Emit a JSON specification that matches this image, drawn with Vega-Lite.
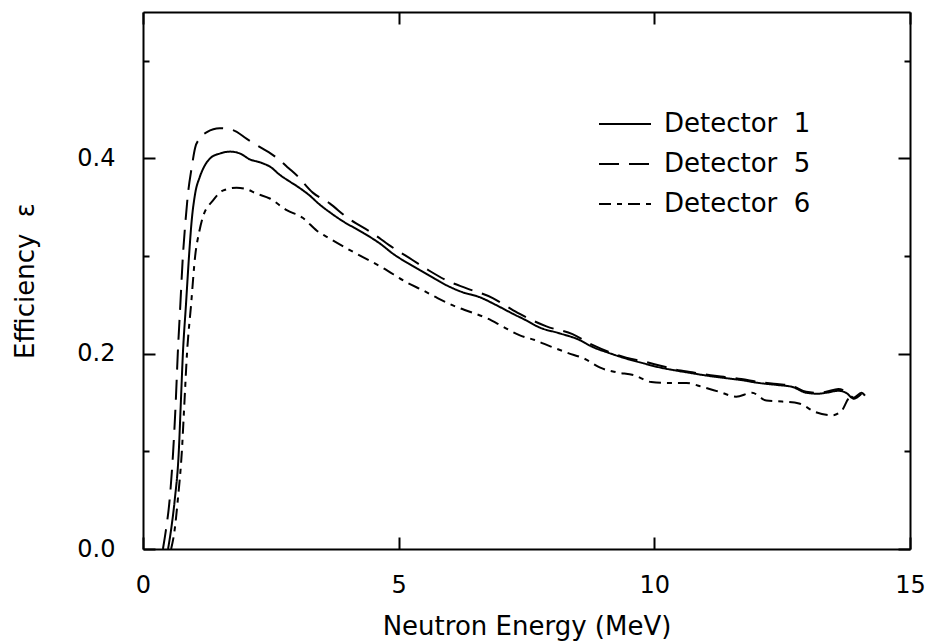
{
  "$schema": "https://vega.github.io/schema/vega-lite/v6.json",
  "width": 767,
  "height": 537,
  "autosize": {"type": "none"},
  "padding": {"left": 143, "top": 12, "right": 15, "bottom": 95},
  "config": {
    "font": "DejaVu Sans",
    "view": {"stroke": null},
    "axis": {
      "grid": false,
      "domainColor": "black",
      "domainWidth": 2,
      "tickColor": "black",
      "tickWidth": 2,
      "labelColor": "black",
      "titleColor": "black",
      "labelFontSize": 24,
      "titleFontSize": 26,
      "titleFontWeight": "normal",
      "labelFont": "DejaVu Sans",
      "titleFont": "DejaVu Sans",
      "labelFlush": false
    }
  },
  "data": {
    "values": [
      {"detector": "Detector 1", "energy": 0.49, "eff": 0.0},
      {"detector": "Detector 1", "energy": 0.55, "eff": 0.02},
      {"detector": "Detector 1", "energy": 0.62, "eff": 0.05},
      {"detector": "Detector 1", "energy": 0.70, "eff": 0.10},
      {"detector": "Detector 1", "energy": 0.74, "eff": 0.15},
      {"detector": "Detector 1", "energy": 0.78, "eff": 0.20},
      {"detector": "Detector 1", "energy": 0.84, "eff": 0.25},
      {"detector": "Detector 1", "energy": 0.90, "eff": 0.30},
      {"detector": "Detector 1", "energy": 0.95, "eff": 0.335},
      {"detector": "Detector 1", "energy": 1.02, "eff": 0.364},
      {"detector": "Detector 1", "energy": 1.11, "eff": 0.381},
      {"detector": "Detector 1", "energy": 1.20, "eff": 0.392},
      {"detector": "Detector 1", "energy": 1.31, "eff": 0.400},
      {"detector": "Detector 1", "energy": 1.50, "eff": 0.405},
      {"detector": "Detector 1", "energy": 1.70, "eff": 0.407},
      {"detector": "Detector 1", "energy": 1.90, "eff": 0.405},
      {"detector": "Detector 1", "energy": 2.09, "eff": 0.399},
      {"detector": "Detector 1", "energy": 2.29, "eff": 0.396},
      {"detector": "Detector 1", "energy": 2.50, "eff": 0.391},
      {"detector": "Detector 1", "energy": 2.68, "eff": 0.383},
      {"detector": "Detector 1", "energy": 2.85, "eff": 0.377},
      {"detector": "Detector 1", "energy": 3.00, "eff": 0.372},
      {"detector": "Detector 1", "energy": 3.26, "eff": 0.362},
      {"detector": "Detector 1", "energy": 3.45, "eff": 0.353},
      {"detector": "Detector 1", "energy": 3.65, "eff": 0.345},
      {"detector": "Detector 1", "energy": 3.90, "eff": 0.336},
      {"detector": "Detector 1", "energy": 4.30, "eff": 0.324},
      {"detector": "Detector 1", "energy": 4.63, "eff": 0.313},
      {"detector": "Detector 1", "energy": 4.90, "eff": 0.302},
      {"detector": "Detector 1", "energy": 5.27, "eff": 0.290},
      {"detector": "Detector 1", "energy": 5.60, "eff": 0.280},
      {"detector": "Detector 1", "energy": 5.94, "eff": 0.270},
      {"detector": "Detector 1", "energy": 6.25, "eff": 0.263},
      {"detector": "Detector 1", "energy": 6.58, "eff": 0.258},
      {"detector": "Detector 1", "energy": 6.90, "eff": 0.250},
      {"detector": "Detector 1", "energy": 7.23, "eff": 0.241},
      {"detector": "Detector 1", "energy": 7.50, "eff": 0.234},
      {"detector": "Detector 1", "energy": 7.75, "eff": 0.227},
      {"detector": "Detector 1", "energy": 8.14, "eff": 0.221},
      {"detector": "Detector 1", "energy": 8.54, "eff": 0.214},
      {"detector": "Detector 1", "energy": 8.79, "eff": 0.207},
      {"detector": "Detector 1", "energy": 9.10, "eff": 0.201},
      {"detector": "Detector 1", "energy": 9.45, "eff": 0.195},
      {"detector": "Detector 1", "energy": 9.80, "eff": 0.190},
      {"detector": "Detector 1", "energy": 10.10, "eff": 0.186},
      {"detector": "Detector 1", "energy": 10.40, "eff": 0.183},
      {"detector": "Detector 1", "energy": 10.74, "eff": 0.180},
      {"detector": "Detector 1", "energy": 11.10, "eff": 0.177},
      {"detector": "Detector 1", "energy": 11.40, "eff": 0.175},
      {"detector": "Detector 1", "energy": 11.70, "eff": 0.173},
      {"detector": "Detector 1", "energy": 12.05, "eff": 0.170},
      {"detector": "Detector 1", "energy": 12.40, "eff": 0.168},
      {"detector": "Detector 1", "energy": 12.70, "eff": 0.166},
      {"detector": "Detector 1", "energy": 12.97, "eff": 0.160},
      {"detector": "Detector 1", "energy": 13.20, "eff": 0.159},
      {"detector": "Detector 1", "energy": 13.36, "eff": 0.160},
      {"detector": "Detector 1", "energy": 13.60, "eff": 0.162},
      {"detector": "Detector 1", "energy": 13.75, "eff": 0.160},
      {"detector": "Detector 1", "energy": 13.90, "eff": 0.154},
      {"detector": "Detector 1", "energy": 14.05, "eff": 0.159},

      {"detector": "Detector 5", "energy": 0.39, "eff": 0.0},
      {"detector": "Detector 5", "energy": 0.45, "eff": 0.02},
      {"detector": "Detector 5", "energy": 0.52, "eff": 0.05},
      {"detector": "Detector 5", "energy": 0.59, "eff": 0.10},
      {"detector": "Detector 5", "energy": 0.64, "eff": 0.15},
      {"detector": "Detector 5", "energy": 0.68, "eff": 0.20},
      {"detector": "Detector 5", "energy": 0.73, "eff": 0.25},
      {"detector": "Detector 5", "energy": 0.78, "eff": 0.30},
      {"detector": "Detector 5", "energy": 0.83, "eff": 0.335},
      {"detector": "Detector 5", "energy": 0.88, "eff": 0.364},
      {"detector": "Detector 5", "energy": 0.95, "eff": 0.390},
      {"detector": "Detector 5", "energy": 1.02, "eff": 0.411},
      {"detector": "Detector 5", "energy": 1.10, "eff": 0.420},
      {"detector": "Detector 5", "energy": 1.25, "eff": 0.427},
      {"detector": "Detector 5", "energy": 1.50, "eff": 0.431},
      {"detector": "Detector 5", "energy": 1.76, "eff": 0.429},
      {"detector": "Detector 5", "energy": 2.03, "eff": 0.420},
      {"detector": "Detector 5", "energy": 2.34, "eff": 0.410},
      {"detector": "Detector 5", "energy": 2.50, "eff": 0.405},
      {"detector": "Detector 5", "energy": 2.68, "eff": 0.398},
      {"detector": "Detector 5", "energy": 2.85, "eff": 0.390},
      {"detector": "Detector 5", "energy": 3.00, "eff": 0.383},
      {"detector": "Detector 5", "energy": 3.32, "eff": 0.365},
      {"detector": "Detector 5", "energy": 3.65, "eff": 0.354},
      {"detector": "Detector 5", "energy": 3.98, "eff": 0.340},
      {"detector": "Detector 5", "energy": 4.50, "eff": 0.323},
      {"detector": "Detector 5", "energy": 4.82, "eff": 0.311},
      {"detector": "Detector 5", "energy": 5.27, "eff": 0.296},
      {"detector": "Detector 5", "energy": 5.60, "eff": 0.285},
      {"detector": "Detector 5", "energy": 5.94, "eff": 0.275},
      {"detector": "Detector 5", "energy": 6.33, "eff": 0.267},
      {"detector": "Detector 5", "energy": 6.84, "eff": 0.257},
      {"detector": "Detector 5", "energy": 7.10, "eff": 0.249},
      {"detector": "Detector 5", "energy": 7.36, "eff": 0.241},
      {"detector": "Detector 5", "energy": 7.89, "eff": 0.228},
      {"detector": "Detector 5", "energy": 8.40, "eff": 0.220},
      {"detector": "Detector 5", "energy": 8.79, "eff": 0.209},
      {"detector": "Detector 5", "energy": 9.10, "eff": 0.202},
      {"detector": "Detector 5", "energy": 9.45, "eff": 0.196},
      {"detector": "Detector 5", "energy": 9.80, "eff": 0.192},
      {"detector": "Detector 5", "energy": 10.10, "eff": 0.188},
      {"detector": "Detector 5", "energy": 10.40, "eff": 0.184},
      {"detector": "Detector 5", "energy": 10.74, "eff": 0.181},
      {"detector": "Detector 5", "energy": 11.10, "eff": 0.178},
      {"detector": "Detector 5", "energy": 11.40, "eff": 0.176},
      {"detector": "Detector 5", "energy": 11.70, "eff": 0.174},
      {"detector": "Detector 5", "energy": 12.05, "eff": 0.171},
      {"detector": "Detector 5", "energy": 12.40, "eff": 0.169},
      {"detector": "Detector 5", "energy": 12.70, "eff": 0.167},
      {"detector": "Detector 5", "energy": 12.97, "eff": 0.161},
      {"detector": "Detector 5", "energy": 13.20, "eff": 0.160},
      {"detector": "Detector 5", "energy": 13.36, "eff": 0.161},
      {"detector": "Detector 5", "energy": 13.60, "eff": 0.164},
      {"detector": "Detector 5", "energy": 13.75, "eff": 0.161},
      {"detector": "Detector 5", "energy": 13.90, "eff": 0.155},
      {"detector": "Detector 5", "energy": 14.05, "eff": 0.160},
      {"detector": "Detector 5", "energy": 14.12, "eff": 0.157},

      {"detector": "Detector 6", "energy": 0.55, "eff": 0.0},
      {"detector": "Detector 6", "energy": 0.62, "eff": 0.02},
      {"detector": "Detector 6", "energy": 0.68, "eff": 0.05},
      {"detector": "Detector 6", "energy": 0.76, "eff": 0.10},
      {"detector": "Detector 6", "energy": 0.81, "eff": 0.15},
      {"detector": "Detector 6", "energy": 0.86, "eff": 0.20},
      {"detector": "Detector 6", "energy": 0.94, "eff": 0.25},
      {"detector": "Detector 6", "energy": 1.02, "eff": 0.30},
      {"detector": "Detector 6", "energy": 1.10, "eff": 0.325},
      {"detector": "Detector 6", "energy": 1.17, "eff": 0.340},
      {"detector": "Detector 6", "energy": 1.37, "eff": 0.357},
      {"detector": "Detector 6", "energy": 1.56, "eff": 0.367},
      {"detector": "Detector 6", "energy": 1.83, "eff": 0.370},
      {"detector": "Detector 6", "energy": 2.00, "eff": 0.369},
      {"detector": "Detector 6", "energy": 2.22, "eff": 0.364},
      {"detector": "Detector 6", "energy": 2.48, "eff": 0.359},
      {"detector": "Detector 6", "energy": 2.81, "eff": 0.347},
      {"detector": "Detector 6", "energy": 3.13, "eff": 0.339},
      {"detector": "Detector 6", "energy": 3.40, "eff": 0.326},
      {"detector": "Detector 6", "energy": 3.65, "eff": 0.318},
      {"detector": "Detector 6", "energy": 3.98, "eff": 0.308},
      {"detector": "Detector 6", "energy": 4.30, "eff": 0.299},
      {"detector": "Detector 6", "energy": 4.69, "eff": 0.288},
      {"detector": "Detector 6", "energy": 5.16, "eff": 0.273},
      {"detector": "Detector 6", "energy": 5.47, "eff": 0.265},
      {"detector": "Detector 6", "energy": 5.76, "eff": 0.257},
      {"detector": "Detector 6", "energy": 6.13, "eff": 0.248},
      {"detector": "Detector 6", "energy": 6.39, "eff": 0.243},
      {"detector": "Detector 6", "energy": 6.74, "eff": 0.236},
      {"detector": "Detector 6", "energy": 7.03, "eff": 0.228},
      {"detector": "Detector 6", "energy": 7.36, "eff": 0.219},
      {"detector": "Detector 6", "energy": 7.66, "eff": 0.214},
      {"detector": "Detector 6", "energy": 7.99, "eff": 0.207},
      {"detector": "Detector 6", "energy": 8.30, "eff": 0.201},
      {"detector": "Detector 6", "energy": 8.67, "eff": 0.194},
      {"detector": "Detector 6", "energy": 8.93, "eff": 0.186},
      {"detector": "Detector 6", "energy": 9.26, "eff": 0.181},
      {"detector": "Detector 6", "energy": 9.60, "eff": 0.178},
      {"detector": "Detector 6", "energy": 9.94, "eff": 0.171},
      {"detector": "Detector 6", "energy": 10.29, "eff": 0.170},
      {"detector": "Detector 6", "energy": 10.63, "eff": 0.170},
      {"detector": "Detector 6", "energy": 10.94, "eff": 0.166},
      {"detector": "Detector 6", "energy": 11.27, "eff": 0.161},
      {"detector": "Detector 6", "energy": 11.60, "eff": 0.156},
      {"detector": "Detector 6", "energy": 11.91, "eff": 0.160},
      {"detector": "Detector 6", "energy": 12.19, "eff": 0.152},
      {"detector": "Detector 6", "energy": 12.50, "eff": 0.151},
      {"detector": "Detector 6", "energy": 12.83, "eff": 0.149},
      {"detector": "Detector 6", "energy": 13.16, "eff": 0.140},
      {"detector": "Detector 6", "energy": 13.48, "eff": 0.137},
      {"detector": "Detector 6", "energy": 13.67, "eff": 0.142},
      {"detector": "Detector 6", "energy": 13.80, "eff": 0.154},
      {"detector": "Detector 6", "energy": 13.90, "eff": 0.156}
    ]
  },
  "layer": [
    {
      "mark": {"type": "line", "color": "black", "strokeWidth": 2, "interpolate": "monotone"},
      "encoding": {
        "x": {
          "field": "energy", "type": "quantitative",
          "scale": {"domain": [0, 15], "nice": false, "zero": false},
          "axis": {"orient": "bottom", "values": [0, 5, 10, 15], "tickSize": -12, "labelPadding": 36, "title": "Neutron Energy (MeV)", "titlePadding": 16, "format": "d"}
        },
        "y": {
          "field": "eff", "type": "quantitative",
          "scale": {"domain": [0, 0.55], "nice": false},
          "axis": {
            "orient": "left",
            "values": [0, 0.1, 0.2, 0.3, 0.4, 0.5],
            "tickSize": {"condition": {"test": "abs(datum.value*5 - round(datum.value*5)) < 0.001", "value": -12}, "value": -6},
            "labelExpr": "abs(datum.value*5 - round(datum.value*5)) < 0.001 ? format(datum.value, '.1f') : ''",
            "labelPadding": 40,
            "title": "Efficiency\u00a0\u00a0ε",
            "titlePadding": 38
          }
        },
        "strokeDash": {
          "field": "detector", "type": "nominal",
          "scale": {"domain": ["Detector 1", "Detector 5", "Detector 6"], "range": [[1, 0], [20, 10], [12, 6, 5, 6]]},
          "legend": {
            "orient": "none", "legendX": 455, "legendY": 85, "title": null,
            "symbolType": "stroke", "symbolSize": 2704, "symbolStrokeWidth": 2, "symbolStrokeColor": "black",
            "labelFontSize": 26, "labelFont": "DejaVu Sans", "labelColor": "black", "labelOffset": 12, "rowPadding": -13,
            "labelExpr": "replace(datum.label, ' ', '\u00a0\u00a0')"
          }
        }
      }
    },
    {
      "mark": {"type": "line", "opacity": 0},
      "encoding": {
        "x": {
          "field": "energy", "type": "quantitative",
          "scale": {"domain": [0, 15], "nice": false, "zero": false},
          "axis": {"orient": "top", "values": [0, 5, 10, 15], "tickSize": -12, "labels": false, "title": null}
        },
        "y": {
          "field": "eff", "type": "quantitative",
          "scale": {"domain": [0, 0.55], "nice": false},
          "axis": {
            "orient": "right",
            "values": [0, 0.1, 0.2, 0.3, 0.4, 0.5],
            "tickSize": {"condition": {"test": "abs(datum.value*5 - round(datum.value*5)) < 0.001", "value": -12}, "value": -6},
            "labels": false, "title": null
          }
        },
        "detail": {"field": "detector", "type": "nominal"}
      }
    }
  ],
  "resolve": {"axis": {"x": "independent", "y": "independent"}}
}
